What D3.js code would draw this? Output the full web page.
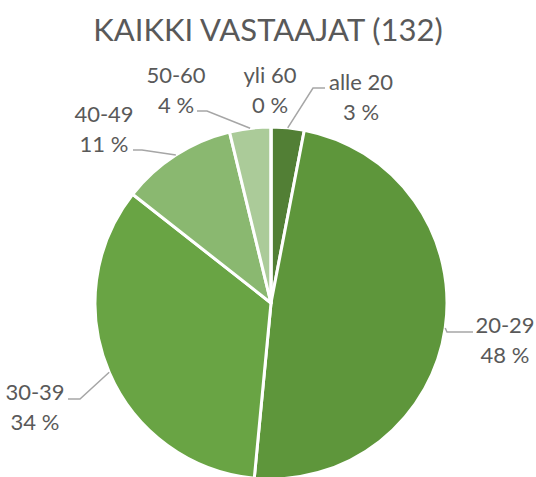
<!DOCTYPE html>
<html>
<head>
<meta charset="utf-8">
<script src="https://cdn.jsdelivr.net/npm/d3@7"></script>
<style>
  body { margin: 0; background: #fff; }
  text { font-family: Lato, "Open Sans", sans-serif; fill: #595959; }
</style>
</head>
<body>
<div id="chart"></div>
<script>
// data (132 respondents)
var categories = ["alle 20", "20-29", "30-39", "40-49", "50-60", "yli 60"];
var counts     = [4, 64, 45, 14, 5, 0];
var percents   = ["3 %", "48 %", "34 %", "11 %", "4 %", "0 %"];
var colors     = ["#527F35", "#5E963B", "#69A444", "#8AB870", "#ABCB99", "#C9DDBD"];

var width = 536, height = 477;
var cx = 271, cy = 303, radius = 176;

var svg = d3.select("#chart")
  .append("svg")
    .attr("width", width)
    .attr("height", height);

// title
svg.append("text")
  .attr("x", 268)
  .attr("y", 41)
  .attr("text-anchor", "middle")
  .style("font-size", "31px")
  .text("KAIKKI VASTAAJAT (132)");

var pie = d3.pie().sort(null).value(function(d) { return d; });
var arcs = pie(counts);
var arc = d3.arc().innerRadius(0).outerRadius(radius);

var g = svg.append("g")
  .attr("transform", "translate(" + cx + "," + cy + ")");

g.selectAll("path")
  .data(arcs)
  .enter()
  .append("path")
    .attr("d", arc)
    .attr("fill", function(d, i) { return colors[i]; })
    .attr("stroke", "#fff")
    .attr("stroke-width", 3)
    .attr("stroke-linejoin", "round");

// label layout (text baseline relative to pie centre, leader elbow)
var labelLayout = [
  {tx: 90,   ty: -213, elbow: [42, -215],   tail: 12},
  {tx: 234,  ty: 30,   elbow: [176, 29],    tail: 26},
  {tx: -236, ty: 97,   elbow: [-191, 96],   tail: -12},
  {tx: -167, ty: -181, elbow: [-129, -153], tail: -9},
  {tx: -95,  ty: -220, elbow: [-64, -192],  tail: -10},
  {tx: -1,   ty: -220, elbow: null}
];

var outer = d3.arc().innerRadius(radius).outerRadius(radius);

arcs.forEach(function(d, i) {
  var L = labelLayout[i];
  if (L.elbow) {
    var a = outer.centroid(d);
    var end = [L.elbow[0] + L.tail, L.elbow[1]];
    g.append("polyline")
      .attr("points", [a, L.elbow, end].map(function(p) { return p.join(","); }).join(" "))
      .attr("fill", "none")
      .attr("stroke", "#a6a6a6")
      .attr("stroke-width", 1.5);
  }
  var t = g.append("text")
    .attr("text-anchor", "middle")
    .style("font-size", "22px");
  t.append("tspan")
    .attr("x", L.tx).attr("y", L.ty)
    .text(categories[i]);
  t.append("tspan")
    .attr("x", L.tx).attr("y", L.ty + 30)
    .text(percents[i]);
});
</script>
</body>
</html>
